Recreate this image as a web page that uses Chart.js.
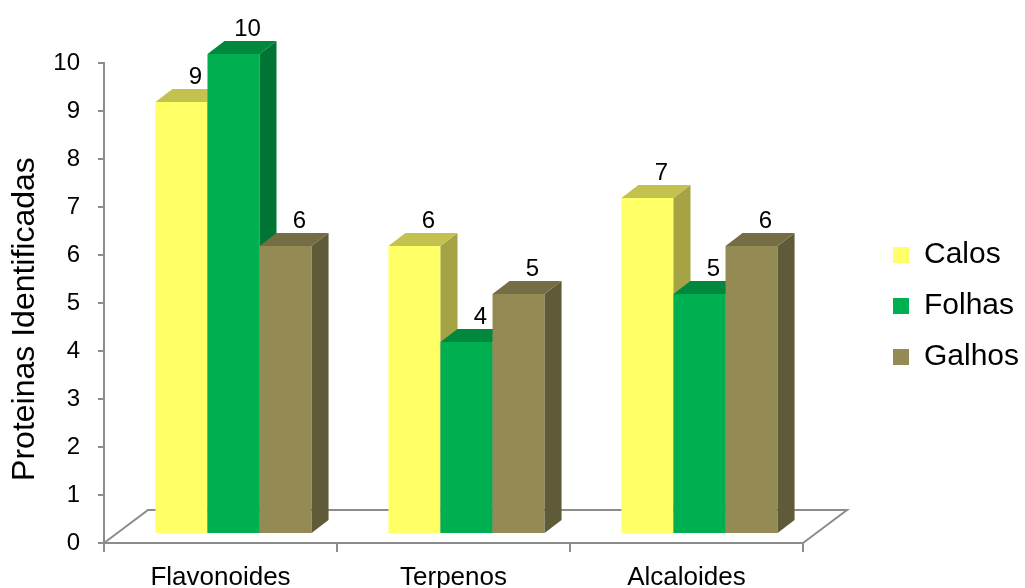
<!DOCTYPE html>
<html><head><meta charset="utf-8">
<script src="https://cdn.jsdelivr.net/npm/chart.js@4/dist/chart.umd.min.js"></script>
<style>html,body{margin:0;padding:0;background:#fff}canvas{display:block}</style>
</head><body>
<canvas id="c" width="1025" height="588"></canvas>
<script>
// ---- data ----
const categories = ['Flavonoides', 'Terpenos', 'Alcaloides'];
const seriesNames = ['Calos', 'Folhas', 'Galhos'];
const calos = [9, 6, 7];
const folhas = [10, 4, 5];
const galhos = [6, 5, 6];
const yMin = 0;
const yMax = 10;
const yStep = 1;
const yTitle = 'Proteinas Identificadas';

// ---- style ----
const FONT = '"Liberation Sans", Arial, Helvetica, sans-serif';
const AXIS = '#8c8c8c';
const frontColors = ['#FFFF66', '#00B050', '#948A54'];
const topColors = ['#C3C24F', '#00883E', '#756D43'];
const sideColors = ['#A5A344', '#007533', '#5F5A38'];
const DX = 17, DY = 13;            // bar depth
const SHIFT_X = 13, SHIFT_Y = -9;  // bars sit inside the floor
const FLOOR_DX = 44, FLOOR_DY = 33;
const TITLE_SHIFT = 16;

Chart.defaults.font.family = FONT;
Chart.defaults.color = '#000';

const threeD = {
  id: 'threeD',
  afterLayout(chart) {
    const lg = chart.legend;
    if (lg) {
      lg.left = 872; lg.right = chart.width; lg.width = lg.right - lg.left;
      lg.top = chart.chartArea.top + 3; lg.bottom = chart.chartArea.bottom + 3;
      lg.height = lg.bottom - lg.top;
    }
    const ys = chart.scales.y;
    if (ys && !ys.__wrapped) {
      const orig = ys.drawTitle;
      ys.drawTitle = function (...a) {
        this.ctx.save(); this.ctx.translate(0, TITLE_SHIFT);
        orig.apply(this, a);
        this.ctx.restore();
      };
      ys.__wrapped = true;
    }
  },
  beforeDatasetsDraw(chart) {
    const { ctx, chartArea: a } = chart;
    ctx.save();
    ctx.strokeStyle = AXIS; ctx.lineWidth = 2;
    ctx.beginPath();
    ctx.moveTo(a.left, a.bottom);
    ctx.lineTo(a.left + FLOOR_DX, a.bottom - FLOOR_DY);
    ctx.lineTo(a.right + FLOOR_DX, a.bottom - FLOOR_DY);
    ctx.lineTo(a.right, a.bottom);
    ctx.stroke();
    ctx.restore();
  },
  // let this plugin draw the datasets left to right so 3D faces overlap correctly
  beforeDatasetDraw() { return false; },
  afterDatasetsDraw(chart) {
    const ctx = chart.ctx;
    ctx.save();
    ctx.translate(SHIFT_X, SHIFT_Y);
    chart.data.datasets.forEach((ds, i) => {
      const meta = chart.getDatasetMeta(i);
      meta.controller.draw();
      meta.data.forEach(el => {
        const { x, y, base, width } = el.getProps(['x', 'y', 'base', 'width'], true);
        const l = x - width / 2, r = x + width / 2;
        ctx.fillStyle = sideColors[i];
        ctx.beginPath();
        ctx.moveTo(r, y); ctx.lineTo(r + DX, y - DY); ctx.lineTo(r + DX, base - DY); ctx.lineTo(r, base);
        ctx.closePath(); ctx.fill();
        ctx.fillStyle = topColors[i];
        ctx.beginPath();
        ctx.moveTo(l, y); ctx.lineTo(l + DX, y - DY); ctx.lineTo(r + DX, y - DY); ctx.lineTo(r, y);
        ctx.closePath(); ctx.fill();
      });
    });
    ctx.font = '24px ' + FONT;
    ctx.fillStyle = '#000';
    ctx.textAlign = 'center';
    ctx.textBaseline = 'alphabetic';
    chart.data.datasets.forEach((ds, i) => {
      chart.getDatasetMeta(i).data.forEach((el, j) => {
        ctx.fillText(String(ds.data[j]), el.x + 14, el.y - DY - 5);
      });
    });
    ctx.restore();
  }
};

const seriesData = [calos, folhas, galhos];
const datasets = seriesNames.map((name, i) => ({
  label: name,
  data: seriesData[i],
  backgroundColor: frontColors[i],
  borderWidth: 0,
  clip: false
}));

const yTickValues = [];
for (let v = yMin; v <= yMax; v += yStep) yTickValues.push(v);

new Chart(document.getElementById('c'), {
  type: 'bar',
  data: { labels: categories, datasets },
  options: {
    responsive: false,
    animation: false,
    devicePixelRatio: 1,
    categoryPercentage: 0.67,
    barPercentage: 1,
    layout: { padding: { left: 0, right: 102, top: 63, bottom: 0 } },
    plugins: {
      tooltip: { enabled: false },
      legend: {
        position: 'right',
        fullSize: false,
        maxWidth: 120,
        labels: {
          boxWidth: 16, boxHeight: 16, padding: 21,
          font: { size: 30 }, color: '#000'
        }
      }
    },
    scales: {
      x: {
        afterFit: s => { s.height = 45; },
        grid: { display: true, drawOnChartArea: false, drawTicks: true, tickLength: 9, color: AXIS, lineWidth: 2 },
        border: { display: true, color: AXIS, width: 2 },
        ticks: { font: { size: 26 }, color: '#000', padding: 10, maxRotation: 0 }
      },
      y: {
        min: yMin, max: yMax,
        afterFit: s => { s.width = 104; },
        afterBuildTicks: s => { s.ticks = yTickValues.map(v => ({ value: v })); },
        grid: { display: true, drawOnChartArea: false, drawTicks: true, tickLength: 6, color: AXIS, lineWidth: 2 },
        border: { display: true, color: AXIS, width: 2 },
        ticks: { font: { size: 24 }, color: '#000', padding: 18, stepSize: yStep },
        title: { display: true, text: yTitle, font: { size: 32 }, color: '#000', padding: { top: 6, bottom: 0 } }
      }
    }
  },
  plugins: [threeD]
});
</script>
</body></html>
